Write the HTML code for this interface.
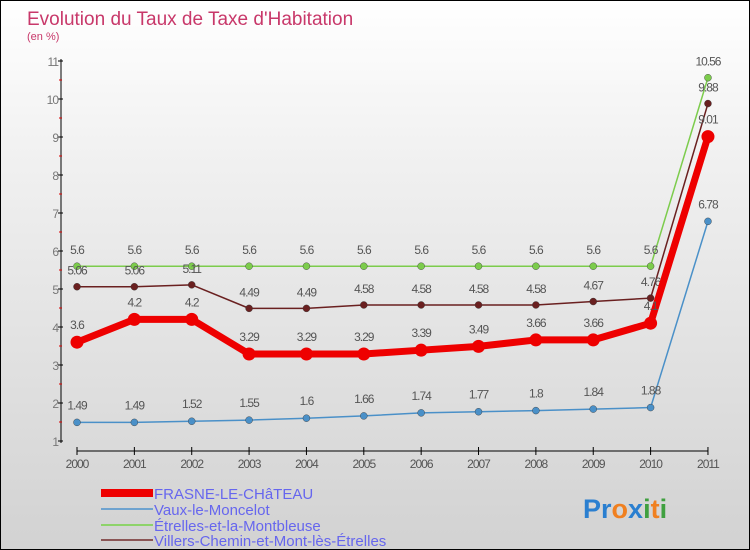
<!DOCTYPE html>
<html><head><meta charset="utf-8"><style>
body{margin:0}
#c{width:748px;height:548px;border:1px solid #000;background:linear-gradient(#fff,#f0f0f0 30%,#d2d2d2);position:relative;font-family:"Liberation Sans",sans-serif;overflow:hidden}
</style></head><body>
<div id="c">
<svg id="s" width="748" height="548">
<text x="26" y="24" font-size="19" fill="#c8386a">Evolution du Taux de Taxe d'Habitation</text>
<text x="26" y="39" font-size="11" fill="#c8386a">(en %)</text>
<g id="ax"></g><g id="ser"></g>
<g font-size="15" fill="#6666ee">
<rect x="100" y="488" width="52" height="8" fill="#e00"/>
<text x="153" y="498">FRASNE-LE-CHâTEAU</text>
<rect x="100" y="507" width="52" height="2" fill="#6fa3cf"/>
<text x="153" y="514">Vaux-le-Moncelot</text>
<rect x="100" y="523" width="52" height="2" fill="#8ed36a"/>
<text x="153" y="530">Étrelles-et-la-Montbleuse</text>
<rect x="100" y="538" width="52" height="2" fill="#8a5555"/>
<text x="153" y="545">Villers-Chemin-et-Mont-lès-Étrelles</text>
</g>
<text x="582" y="517" font-size="27" font-weight="bold"><tspan fill="#2a7fd0">Pr</tspan><tspan fill="#f08020">o</tspan><tspan fill="#2a7fd0">x</tspan><tspan fill="#40a040">i</tspan><tspan fill="#f08020">t</tspan><tspan fill="#40a040">i</tspan></text>
</svg></div>
<script>
const years=[2000,2001,2002,2003,2004,2005,2006,2007,2008,2009,2010,2011];
const yTicks=[1,2,3,4,5,6,7,8,9,10,11];
const frasne=[3.6,4.2,4.2,3.29,3.29,3.29,3.39,3.49,3.66,3.66,4.1,9.01];
const vaux=[1.49,1.49,1.52,1.55,1.6,1.66,1.74,1.77,1.8,1.84,1.88,6.78];
const etrelles=[5.6,5.6,5.6,5.6,5.6,5.6,5.6,5.6,5.6,5.6,5.6,10.56];
const villers=[5.06,5.06,5.11,4.49,4.49,4.58,4.58,4.58,4.58,4.67,4.76,9.88];
const NS="http://www.w3.org/2000/svg";
const X=i=>76+i*57.36, Y=v=>440-(v-1)*38;
function mk(t,a,p){const e=document.createElementNS(NS,t);for(const k in a)e.setAttribute(k,a[k]);p.appendChild(e);return e;}
const ax=document.getElementById('ax'),ser=document.getElementById('ser');
const yl=mk('line',{x1:60,y1:58,x2:60,y2:442,stroke:'#000'},ax);


yTicks.forEach(v=>{mk('line',{x1:57,y1:Y(v),x2:62,y2:Y(v),stroke:'#000'},ax);
if(v<11)mk('line',{x1:58,y1:Y(v+0.5),x2:61,y2:Y(v+0.5),stroke:'#d00'},ax);
const t=mk('text',{x:57,y:Y(v)+5,'text-anchor':'end','font-size':12,fill:'#777','letter-spacing':'-1'},ax);t.textContent=v;

});
const xl=mk('line',{x1:76,y1:450,x2:707,y2:450,stroke:'#000'},ax);


years.forEach((y,i)=>{mk('line',{x1:X(i),y1:446,x2:X(i),y2:454,stroke:'#000'},ax);
const t=mk('text',{x:X(i),y:467,'text-anchor':'middle','font-size':12,fill:'#555','letter-spacing':'-1'},ax);t.textContent=y;

});
function series(d,col,w,r,name,lc,off){
const g=mk('g',{},ser);


mk('polyline',{points:d.map((v,i)=>X(i)+','+Y(v)).join(' '),fill:'none',stroke:col,'stroke-width':w,'stroke-linejoin':'round'},g);
d.forEach((v,i)=>{const c=mk('circle',{cx:X(i),cy:Y(v),r:r,fill:col,stroke:w>2?'none':'#333','stroke-width':0.4},g);


const t=mk('text',{x:X(i),y:Y(v)+off,'text-anchor':'middle','font-size':12,fill:'#555','letter-spacing':'-1'},g);t.textContent=v;

});}
series(vaux,'#4a90c8',1.5,3.5,'vaux','#6fa3cf',-13);
series(etrelles,'#7ccc4c',1.5,3.5,'etrelles','#8ed36a',-12);
series(villers,'#6a2020',1.5,3.5,'villers','#8a5555',-12);
series(frasne,'#ee0000',7,6.5,'frasne','#e00',-13);
</script>
</body></html>
